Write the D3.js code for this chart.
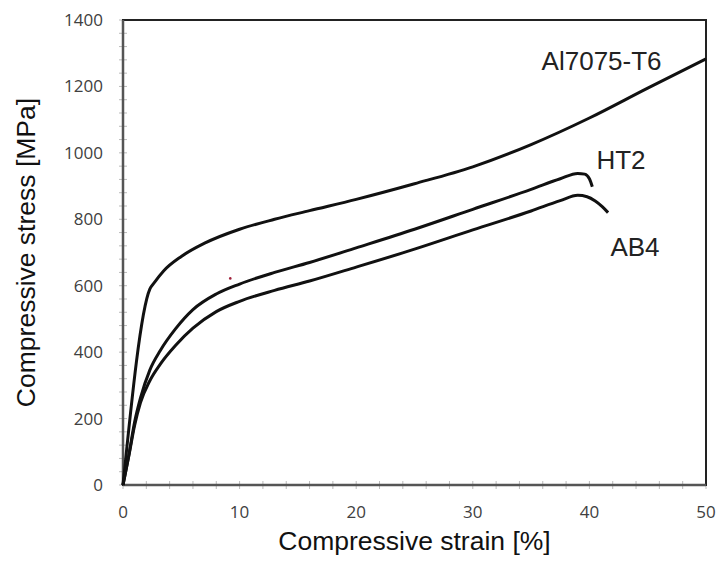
<!DOCTYPE html>
<html>
<head>
<meta charset="utf-8">
<script src="https://cdn.jsdelivr.net/npm/d3@7"></script>
<style>
  body { margin: 0; background: #fff; }
  svg { display: block; }
</style>
</head>
<body>
<div id="plot"></div>
<script>
// Curves: [strain %, stress MPa]
const al7075 = [[0,0],[2.3,590],[2.7,610],[3.5,645],[5,688],[7,728],[10,770],[13,800],[16,826],[20,860],[25,907],[30,958],[35,1025],[40,1105],[45,1195],[50,1283]];
const ht2 = [[0,0],[0.5,90],[1.0,190],[1.5,262],[2.3,346],[3.2,405],[4.5,470],[6,528],[8,575],[10,605],[13,640],[16,670],[20,714],[25,770],[30,830],[35,890],[37.5,922],[39,938],[39.6,936],[40.0,922],[40.25,898]];
const ab4 = [[0,0],[0.5,88],[1.0,180],[1.5,248],[2.3,314],[3.2,364],[4.5,420],[6,472],[8,522],[10,553],[13,586],[16,614],[20,656],[25,710],[30,768],[35,825],[37.5,856],[39,872],[39.8,868],[40.5,855],[41.1,838],[41.6,820]];
const seriesNames = ["Al7075-T6", "HT2", "AB4"];
const labelPos = [[35.9, 1250], [40.6, 950], [41.8, 688]];  // text anchor points in data units
const strayDot = [[9.2, 622]];

const xTicks = [0, 10, 20, 30, 40, 50];
const yTicks = [0, 200, 400, 600, 800, 1000, 1200, 1400];
const xMinor = d3.range(0, 50.01, 2);
const yMinor = d3.range(0, 1400.01, 40);

const W = 719, H = 562;
const margin = {top: 20, right: 13, bottom: 77, left: 123};

const svg = d3.select("#plot").append("svg")
    .attr("width", W)
    .attr("height", H);

const x = d3.scaleLinear().domain([0, 50]).range([margin.left, W - margin.right]);
const y = d3.scaleLinear().domain([0, 1400]).range([H - margin.bottom, margin.top]);

// minor + major tick marks crossing the axes
svg.append("g").selectAll("line").data(xMinor).join("line")
    .attr("x1", d => x(d)).attr("x2", d => x(d))
    .attr("y1", y(0) - 4).attr("y2", y(0) + 4)
    .attr("stroke", "#bbb").attr("stroke-width", 1);
svg.append("g").selectAll("line").data(yMinor).join("line")
    .attr("x1", x(0) - 4).attr("x2", x(0) + 4)
    .attr("y1", d => y(d)).attr("y2", d => y(d))
    .attr("stroke", "#bbb").attr("stroke-width", 1);

// frame
svg.append("rect")
    .attr("x", x(0)).attr("y", y(1400))
    .attr("width", x(50) - x(0)).attr("height", y(0) - y(1400))
    .attr("fill", "none").attr("stroke", "#222").attr("stroke-width", 2);
svg.append("line")
    .attr("x1", x(0)).attr("x2", x(50)).attr("y1", y(0)).attr("y2", y(0))
    .attr("stroke", "#555").attr("stroke-width", 2.5);
svg.append("line")
    .attr("x1", x(0)).attr("x2", x(0)).attr("y1", y(0)).attr("y2", y(1400))
    .attr("stroke", "#555").attr("stroke-width", 2.5);

// tick labels
svg.append("g").selectAll("text").data(xTicks).join("text")
    .attr("x", d => x(d)).attr("y", y(0) + 33)
    .attr("text-anchor", "middle")
    .style("font-family", "'Open Sans', sans-serif").style("font-size", "17px")
    .attr("fill", "#404040")
    .text(d => d);
svg.append("g").selectAll("text").data(yTicks).join("text")
    .attr("x", x(0) - 20).attr("y", d => y(d) + 6)
    .attr("text-anchor", "end")
    .style("font-family", "'Open Sans', sans-serif").style("font-size", "17px")
    .attr("fill", "#404040")
    .text(d => d);

// axis titles
svg.append("text")
    .attr("x", (x(0) + x(50)) / 2).attr("y", 550)
    .attr("text-anchor", "middle")
    .style("font-family", "'Liberation Sans', Arial, sans-serif").style("font-size", "26.5px")
    .attr("fill", "#111")
    .text("Compressive strain [%]");
svg.append("text")
    .attr("transform", `translate(35,${(y(0) + y(1400)) / 2}) rotate(-90)`)
    .attr("text-anchor", "middle")
    .style("font-family", "'Liberation Sans', Arial, sans-serif").style("font-size", "26.5px")
    .attr("fill", "#111")
    .text("Compressive stress [MPa]");

// curves
const line = d3.line()
    .x(d => x(d[0]))
    .y(d => y(d[1]))
    .curve(d3.curveMonotoneX);

svg.append("g").selectAll("path").data([al7075, ht2, ab4]).join("path")
    .attr("d", line)
    .attr("fill", "none")
    .attr("stroke", "#111")
    .attr("stroke-width", 3)
    .attr("stroke-linejoin", "round");

svg.append("g").selectAll("circle").data(strayDot).join("circle")
    .attr("cx", d => x(d[0])).attr("cy", d => y(d[1]))
    .attr("r", 1.3).attr("fill", "#a0203a");

// series labels
svg.append("g").selectAll("text").data(seriesNames).join("text")
    .attr("x", (d, i) => x(labelPos[i][0]))
    .attr("y", (d, i) => y(labelPos[i][1]))
    .style("font-family", "'Liberation Sans', Arial, sans-serif").style("font-size", "26px")
    .attr("fill", "#222")
    .text(d => d);
</script>
</body>
</html>
